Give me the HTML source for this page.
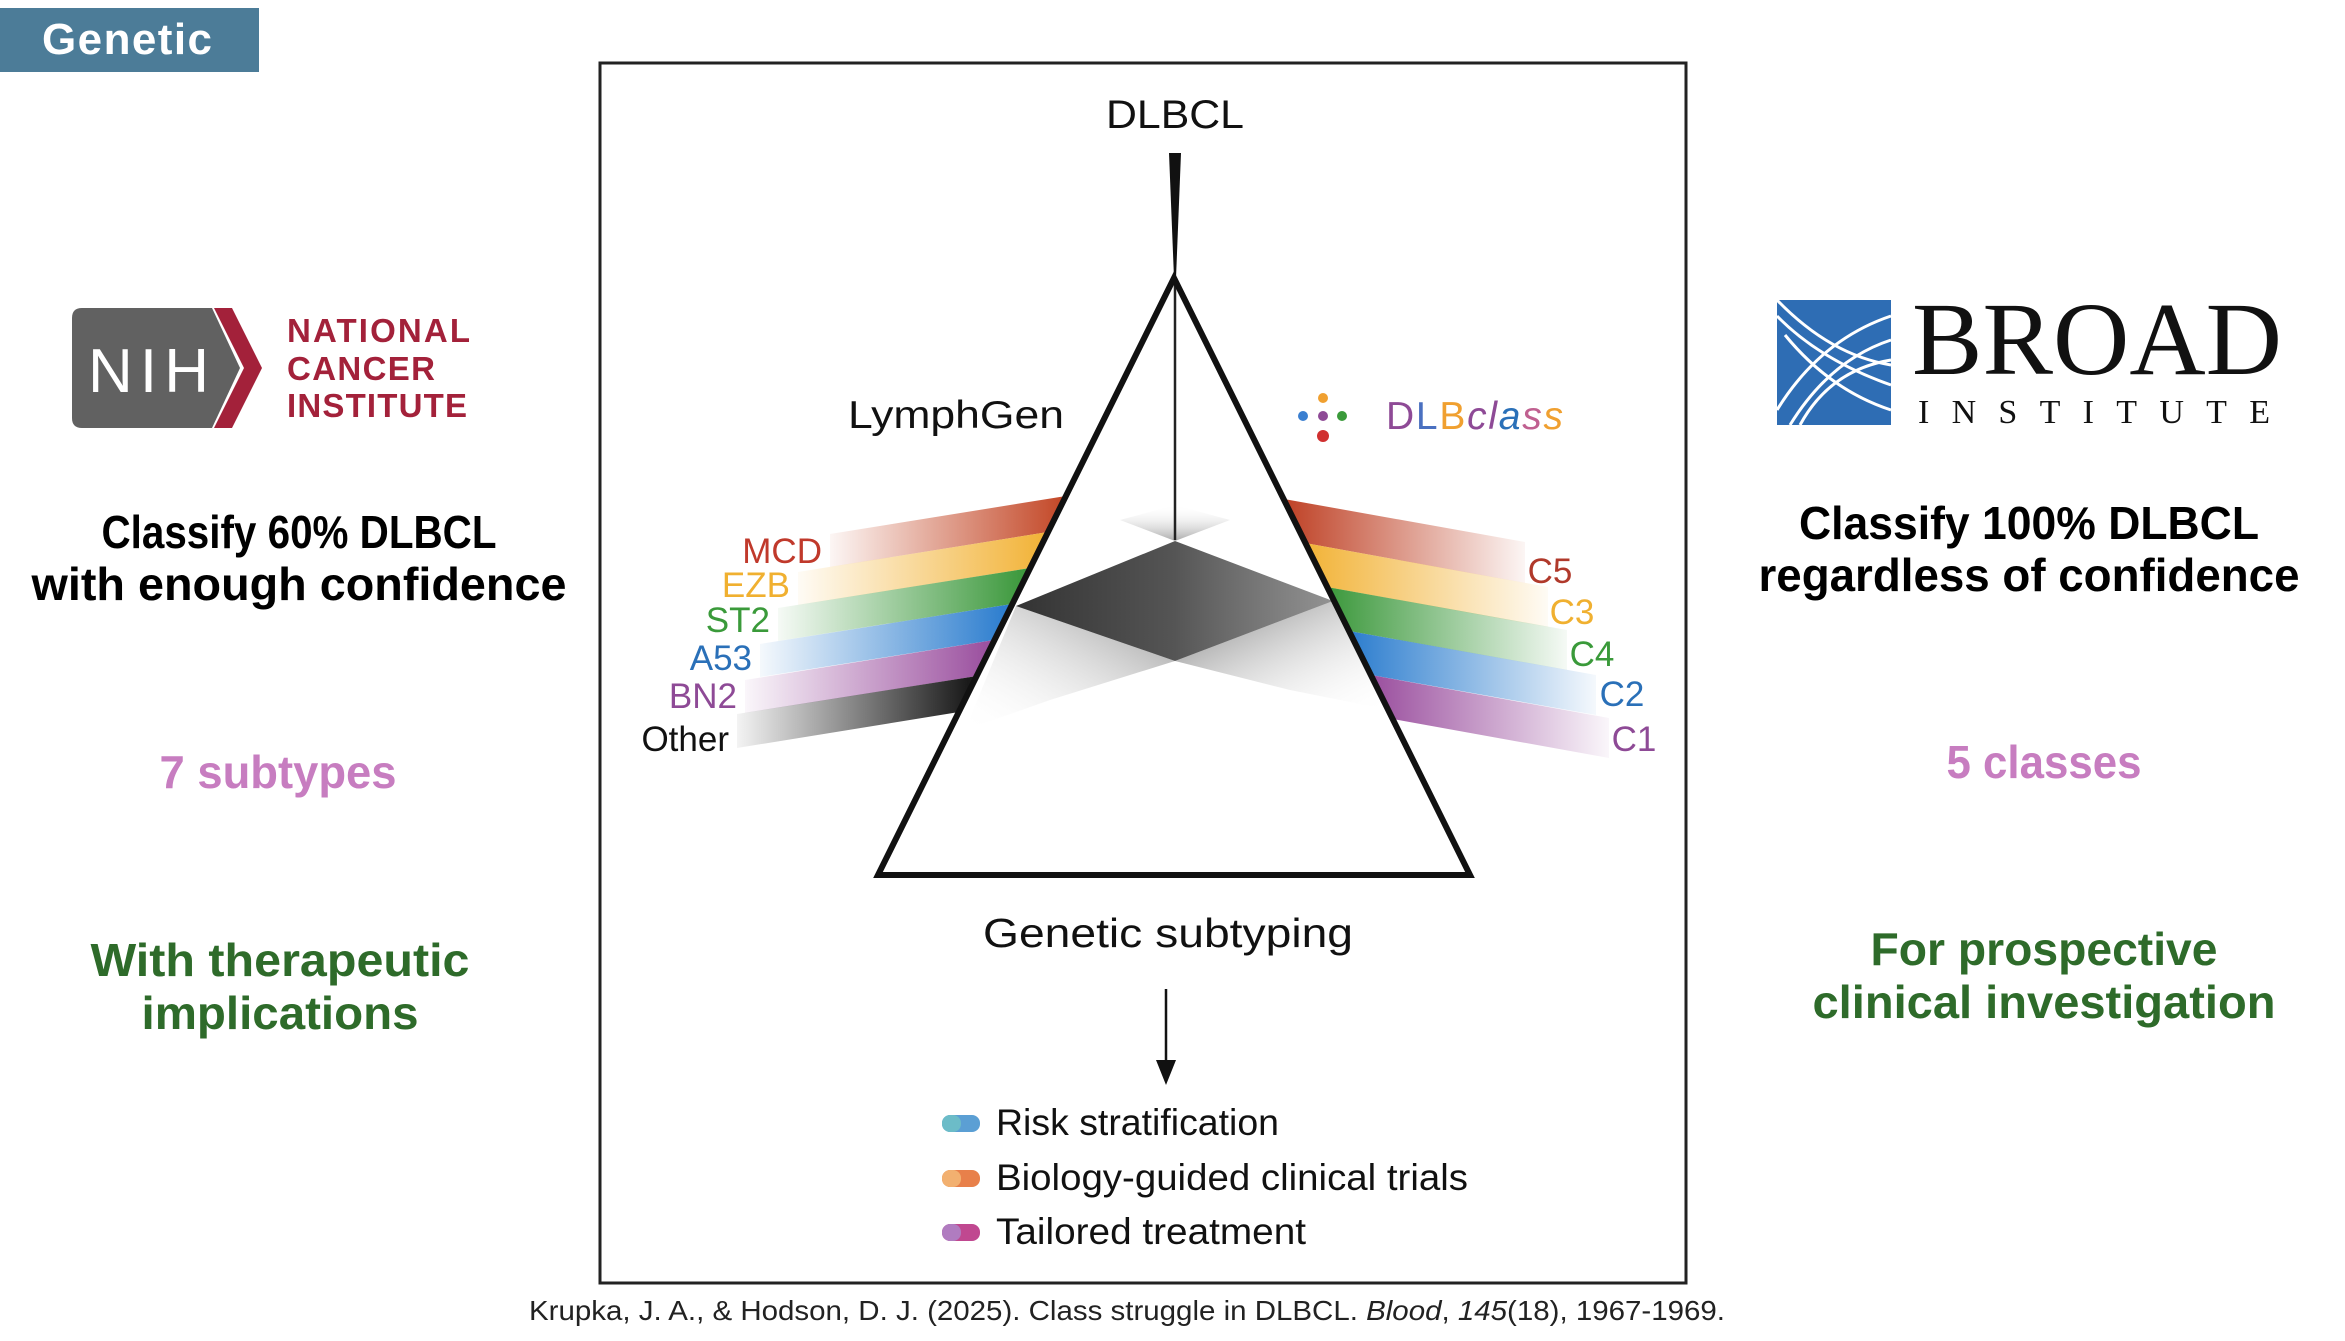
<!DOCTYPE html>
<html><head><meta charset="utf-8"><style>
html,body{margin:0;padding:0;background:#fff;}
svg{display:block;}
</style></head><body>
<svg width="2345" height="1341" viewBox="0 0 2345 1341" xmlns="http://www.w3.org/2000/svg" font-family="Liberation Sans, sans-serif">
<defs>
<linearGradient id="dia" x1="0" y1="0" x2="1" y2="0">
<stop offset="0" stop-color="#333"/><stop offset="0.5" stop-color="#555"/><stop offset="1" stop-color="#777" stop-opacity="0.8"/>
</linearGradient>
<linearGradient id="fanL" x1="1" y1="0" x2="0" y2="1">
<stop offset="0" stop-color="#777" stop-opacity="0.8"/><stop offset="1" stop-color="#fff" stop-opacity="0"/>
</linearGradient>
<linearGradient id="fanR" x1="0" y1="0" x2="1" y2="1">
<stop offset="0" stop-color="#666" stop-opacity="0.9"/><stop offset="1" stop-color="#fff" stop-opacity="0"/>
</linearGradient>
<linearGradient id="fanT" x1="0" y1="1" x2="0" y2="0">
<stop offset="0" stop-color="#888" stop-opacity="0.7"/><stop offset="1" stop-color="#fff" stop-opacity="0"/>
</linearGradient>
<linearGradient id="l0" gradientUnits="userSpaceOnUse" x1="830" y1="0" x2="1060" y2="0"><stop offset="0" stop-color="#c44a2a" stop-opacity="0.05"/><stop offset="1" stop-color="#c44a2a"/></linearGradient>
<linearGradient id="l1" gradientUnits="userSpaceOnUse" x1="798" y1="0" x2="1040" y2="0"><stop offset="0" stop-color="#f2b43a" stop-opacity="0.05"/><stop offset="1" stop-color="#f2b43a"/></linearGradient>
<linearGradient id="l2" gradientUnits="userSpaceOnUse" x1="778" y1="0" x2="1020" y2="0"><stop offset="0" stop-color="#3f9a3f" stop-opacity="0.05"/><stop offset="1" stop-color="#3f9a3f"/></linearGradient>
<linearGradient id="l3" gradientUnits="userSpaceOnUse" x1="760" y1="0" x2="1003" y2="0"><stop offset="0" stop-color="#2f7fcf" stop-opacity="0.05"/><stop offset="1" stop-color="#2f7fcf"/></linearGradient>
<linearGradient id="l4" gradientUnits="userSpaceOnUse" x1="745" y1="0" x2="985" y2="0"><stop offset="0" stop-color="#9c52a0" stop-opacity="0.05"/><stop offset="1" stop-color="#9c52a0"/></linearGradient>
<linearGradient id="l5" gradientUnits="userSpaceOnUse" x1="737" y1="0" x2="968" y2="0"><stop offset="0" stop-color="#1a1a1a" stop-opacity="0.05"/><stop offset="1" stop-color="#1a1a1a"/></linearGradient>
<linearGradient id="r0" gradientUnits="userSpaceOnUse" x1="1290" y1="0" x2="1525" y2="0"><stop offset="0" stop-color="#c0452a"/><stop offset="1" stop-color="#c0452a" stop-opacity="0.05"/></linearGradient>
<linearGradient id="r1" gradientUnits="userSpaceOnUse" x1="1310" y1="0" x2="1548" y2="0"><stop offset="0" stop-color="#f2b43a"/><stop offset="1" stop-color="#f2b43a" stop-opacity="0.05"/></linearGradient>
<linearGradient id="r2" gradientUnits="userSpaceOnUse" x1="1332" y1="0" x2="1567" y2="0"><stop offset="0" stop-color="#3f9a3f"/><stop offset="1" stop-color="#3f9a3f" stop-opacity="0.05"/></linearGradient>
<linearGradient id="r3" gradientUnits="userSpaceOnUse" x1="1354" y1="0" x2="1596" y2="0"><stop offset="0" stop-color="#2f7fcf"/><stop offset="1" stop-color="#2f7fcf" stop-opacity="0.05"/></linearGradient>
<linearGradient id="r4" gradientUnits="userSpaceOnUse" x1="1376" y1="0" x2="1609" y2="0"><stop offset="0" stop-color="#9c52a0"/><stop offset="1" stop-color="#9c52a0" stop-opacity="0.05"/></linearGradient>
</defs>

<rect x="0" y="8" width="259" height="64" fill="#4c7c98"/>
<text x="42" y="54" font-size="44" font-weight="bold" fill="#fff" textLength="170">Genetic</text>

<rect x="600" y="63" width="1086" height="1220" fill="none" stroke="#222" stroke-width="3"/>

<text x="1175" y="128" font-size="40" text-anchor="middle" fill="#111" textLength="138" lengthAdjust="spacingAndGlyphs">DLBCL</text>
<polygon points="1169,153 1181,153 1176,278 1174,278" fill="#111"/>

<polygon points="830,534 1066,496 1048,532 830,567" fill="url(#l0)"/>
<polygon points="798,572 1048,532 1030,568 798,605" fill="url(#l1)"/>
<polygon points="778,608 1030,568 1012,604 778,641" fill="url(#l2)"/>
<polygon points="760,644 1012,604 994,640 760,677" fill="url(#l3)"/>
<polygon points="745,680 994,640 977,676 745,713" fill="url(#l4)"/>
<polygon points="737,714 977,676 959,712 737,748" fill="url(#l5)"/>

<polygon points="1284,499 1525,542 1525,583 1305,543" fill="url(#r0)"/>
<polygon points="1305,543 1548,587 1548,627 1327,587" fill="url(#r1)"/>
<polygon points="1327,587 1567,630 1567,670 1349,631" fill="url(#r2)"/>
<polygon points="1349,631 1596,675 1596,715 1371,675" fill="url(#r3)"/>
<polygon points="1371,675 1609,718 1609,758 1393,719" fill="url(#r4)"/>

<polygon points="1120,520 1175,505 1230,520 1175,541" fill="url(#fanT)"/>
<polygon points="1016,606 1175,661 1050,700 965,730" fill="url(#fanL)"/>
<polygon points="1175,661 1333,601 1390,710 1290,690" fill="url(#fanR)"/>
<polygon points="1016,606 1175,541 1333,601 1175,661" fill="url(#dia)"/>

<line x1="1175" y1="278" x2="1175" y2="540" stroke="#222" stroke-width="2.5"/>

<polygon points="1174,278 878,875 1470,875" fill="none" stroke="#111" stroke-width="6" stroke-linejoin="miter"/>

<g font-size="35" text-anchor="end">
<text x="822" y="563" fill="#c0392b">MCD</text>
<text x="790" y="597" fill="#f0b030">EZB</text>
<text x="770" y="632" fill="#3a9a3a">ST2</text>
<text x="752" y="670" fill="#2a70b8">A53</text>
<text x="737" y="708" fill="#8e4a96">BN2</text>
<text x="729" y="751" fill="#111">Other</text>
</g>
<g font-size="35" text-anchor="middle">
<text x="1550" y="583" fill="#b0392b">C5</text>
<text x="1572" y="624" fill="#f0b030">C3</text>
<text x="1592" y="666" fill="#3a9a3a">C4</text>
<text x="1622" y="706" fill="#2a70b8">C2</text>
<text x="1634" y="751" fill="#8e4a96">C1</text>
</g>

<text x="956" y="428" font-size="39" text-anchor="middle" fill="#111" textLength="216" lengthAdjust="spacingAndGlyphs">LymphGen</text>

<circle cx="1323" cy="398" r="5" fill="#f0a030"/>
<circle cx="1303" cy="416" r="5" fill="#3a7fd0"/>
<circle cx="1323" cy="416" r="5" fill="#8e4a96"/>
<circle cx="1342" cy="416" r="5" fill="#3a9a3a"/>
<circle cx="1323" cy="436" r="6" fill="#d03030"/>
<text x="1386" y="429" font-size="39" textLength="177"><tspan fill="#8e4a96">D</tspan><tspan fill="#4a70c0">L</tspan><tspan fill="#f0a030">B</tspan><tspan font-style="italic" fill="#8e4a96">c</tspan><tspan font-style="italic" fill="#8e4a96">l</tspan><tspan font-style="italic" fill="#2a70b8">a</tspan><tspan font-style="italic" fill="#c06090">s</tspan><tspan font-style="italic" fill="#f0a030">s</tspan></text>

<text x="1168" y="947" font-size="41" text-anchor="middle" fill="#111" textLength="370" lengthAdjust="spacingAndGlyphs">Genetic subtyping</text>

<line x1="1166" y1="989" x2="1166" y2="1068" stroke="#111" stroke-width="2.5"/>
<polygon points="1156,1060 1176,1060 1166,1085" fill="#111"/>

<rect x="942" y="1115" width="38" height="17" rx="8" fill="#5b9fd4"/><rect x="942" y="1115" width="19" height="17" rx="8" fill="#6cbcc8"/>
<rect x="942" y="1170" width="38" height="17" rx="8" fill="#e8804a"/><rect x="942" y="1170" width="19" height="17" rx="8" fill="#f2b070"/>
<rect x="942" y="1224" width="38" height="17" rx="8" fill="#c04890"/><rect x="942" y="1224" width="19" height="17" rx="8" fill="#b07cc0"/>
<g font-size="37" fill="#111">
<text x="996" y="1135" textLength="283" lengthAdjust="spacingAndGlyphs">Risk stratification</text>
<text x="996" y="1190" textLength="472" lengthAdjust="spacingAndGlyphs">Biology-guided clinical trials</text>
<text x="996" y="1244" textLength="310" lengthAdjust="spacingAndGlyphs">Tailored treatment</text>
</g>

<text x="1127" y="1320" font-size="28" text-anchor="middle" fill="#222" textLength="1196" lengthAdjust="spacingAndGlyphs">Krupka, J. A., &amp; Hodson, D. J. (2025). Class struggle in DLBCL. <tspan font-style="italic">Blood</tspan>, <tspan font-style="italic">145</tspan>(18), 1967-1969.</text>

<path d="M82,308 H212 L240,368 L212,428 H82 Q72,428 72,418 V318 Q72,308 82,308 Z" fill="#616161"/>
<polygon points="214,308 232,308 262,368 232,428 214,428 244,368" fill="#a3213a"/>
<text x="88" y="392" font-size="62" fill="#fff" textLength="118" letter-spacing="-3">NIH</text>
<g font-size="33" font-weight="bold" fill="#a3213a">
<text x="287" y="342" textLength="183">NATIONAL</text>
<text x="287" y="380" textLength="148">CANCER</text>
<text x="287" y="417" textLength="180">INSTITUTE</text>
</g>

<g font-weight="bold" text-anchor="middle" font-size="46">
<text x="299" y="548" fill="#000" textLength="395" lengthAdjust="spacingAndGlyphs">Classify 60% DLBCL</text>
<text x="299" y="600" fill="#000" textLength="535" lengthAdjust="spacingAndGlyphs">with enough confidence</text>
<text x="278" y="788" fill="#c77dc0" textLength="237" lengthAdjust="spacingAndGlyphs">7 subtypes</text>
<text x="280" y="976" fill="#2e6b2a" textLength="379" lengthAdjust="spacingAndGlyphs">With therapeutic</text>
<text x="280" y="1029" fill="#2e6b2a" textLength="277" lengthAdjust="spacingAndGlyphs">implications</text>
</g>

<rect x="1777" y="300" width="114" height="125" fill="#2e6db4"/>
<g stroke="#fff" stroke-width="3" fill="none">
<path d="M1891,316 Q1820,340 1777,410"/>
<path d="M1891,340 Q1830,360 1790,425"/>
<path d="M1891,385 Q1820,360 1777,316"/>
<path d="M1891,410 Q1830,390 1785,335"/>
<path d="M1891,360 Q1830,370 1800,425"/>
<path d="M1891,365 Q1830,355 1777,300"/>
</g>
<text x="1912" y="374" font-family="Liberation Serif, serif" font-size="104" fill="#111" textLength="370" lengthAdjust="spacingAndGlyphs">BROAD</text>
<text x="1918" y="423" font-family="Liberation Serif, serif" font-size="34" fill="#111" textLength="352">INSTITUTE</text>

<g font-weight="bold" text-anchor="middle" font-size="46">
<text x="2029" y="539" fill="#000" textLength="460" lengthAdjust="spacingAndGlyphs">Classify 100% DLBCL</text>
<text x="2029" y="591" fill="#000" textLength="541" lengthAdjust="spacingAndGlyphs">regardless of confidence</text>
<text x="2044" y="778" fill="#c77dc0" textLength="195" lengthAdjust="spacingAndGlyphs">5 classes</text>
<text x="2044" y="965" fill="#2e6b2a" textLength="347" lengthAdjust="spacingAndGlyphs">For prospective</text>
<text x="2044" y="1018" fill="#2e6b2a" textLength="463" lengthAdjust="spacingAndGlyphs">clinical investigation</text>
</g>
</svg>
</body></html>
